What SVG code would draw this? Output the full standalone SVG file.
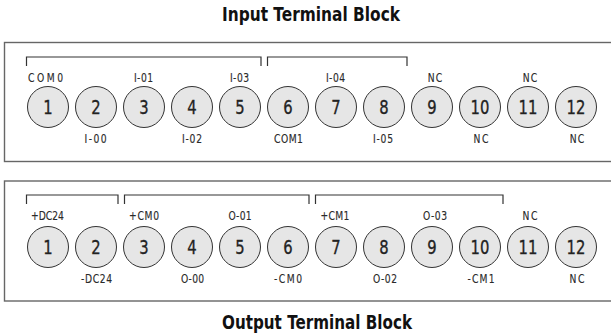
<svg xmlns="http://www.w3.org/2000/svg" width="611" height="336" viewBox="0 0 611 336">
<style>
.title{font-family:"DejaVu Sans","Liberation Sans",sans-serif;font-weight:bold;font-size:19.5px;fill:#111}
.box{fill:#fff;stroke:#666;stroke-width:1.4}
.br{fill:none;stroke:#333;stroke-width:1.2}
.term circle{fill:#e6e6e6;stroke:#333;stroke-width:1}
.num{font-family:"DejaVu Sans","Liberation Sans",sans-serif;font-size:20px;fill:#222;stroke:#222;stroke-width:0.35;text-anchor:middle}
.lbl{font-family:"DejaVu Sans","Liberation Sans",sans-serif;font-size:11.5px;fill:#2a2a2a;stroke:#2a2a2a;stroke-width:0.15;text-anchor:middle}
</style>
<rect width="611" height="336" fill="#fff"/>
<text class="title" x="222" y="21" textLength="178" lengthAdjust="spacingAndGlyphs">Input Terminal Block</text>
<text class="title" x="222" y="329" textLength="190" lengthAdjust="spacingAndGlyphs">Output Terminal Block</text>
<rect class="box" x="4.5" y="42.5" width="640" height="119"/>
<rect class="box" x="4.5" y="181" width="640" height="120"/>
<g id="connectors">
<path class="br" d="M26.5 66V57H261V66"/>
<path class="br" d="M267.5 66V57H407V66"/>
<path class="br" d="M26.5 204V195H118V204"/>
<path class="br" d="M124.5 204V195H309V204"/>
<path class="br" d="M315.5 204V195H503V204"/>
</g>
<g id="input">
<g id="in1" class="term"><circle cx="48" cy="107" r="20.5"/><text class="num" transform="translate(48 114.3) scale(0.74 1)">1</text><text class="lbl" transform="translate(45.5 81.5) scale(0.8 1)" textLength="43.75" lengthAdjust="spacing">COM0</text></g>
<g id="in2" class="term"><circle cx="96" cy="107" r="20.5"/><text class="num" transform="translate(96 114.3) scale(0.74 1)">2</text><text class="lbl" transform="translate(95.5 142.5) scale(0.8 1)" textLength="27.5" lengthAdjust="spacing">I-00</text></g>
<g id="in3" class="term"><circle cx="144" cy="107" r="20.5"/><text class="num" transform="translate(144 114.3) scale(0.74 1)">3</text><text class="lbl" transform="translate(143.5 81.5) scale(0.8 1)" textLength="24" lengthAdjust="spacing">I-01</text></g>
<g id="in4" class="term"><circle cx="192" cy="107" r="20.5"/><text class="num" transform="translate(192 114.3) scale(0.74 1)">4</text><text class="lbl" transform="translate(192 142.5) scale(0.8 1)" textLength="25" lengthAdjust="spacing">I-02</text></g>
<g id="in5" class="term"><circle cx="240" cy="107" r="20.5"/><text class="num" transform="translate(240 114.3) scale(0.74 1)">5</text><text class="lbl" transform="translate(239.5 81.5) scale(0.8 1)" textLength="24" lengthAdjust="spacing">I-03</text></g>
<g id="in6" class="term"><circle cx="288" cy="107" r="20.5"/><text class="num" transform="translate(288 114.3) scale(0.74 1)">6</text><text class="lbl" transform="translate(288.5 142.5) scale(0.8 1)" textLength="36" lengthAdjust="spacing">COM1</text></g>
<g id="in7" class="term"><circle cx="336" cy="107" r="20.5"/><text class="num" transform="translate(336 114.3) scale(0.74 1)">7</text><text class="lbl" transform="translate(335.5 81.5) scale(0.8 1)" textLength="24" lengthAdjust="spacing">I-04</text></g>
<g id="in8" class="term"><circle cx="384" cy="107" r="20.5"/><text class="num" transform="translate(384 114.3) scale(0.74 1)">8</text><text class="lbl" transform="translate(383 142.5) scale(0.8 1)" textLength="25" lengthAdjust="spacing">I-05</text></g>
<g id="in9" class="term"><circle cx="432" cy="107" r="20.5"/><text class="num" transform="translate(432 114.3) scale(0.74 1)">9</text><text class="lbl" transform="translate(435 81.5) scale(0.8 1)" textLength="18" lengthAdjust="spacing">NC</text></g>
<g id="in10" class="term"><circle cx="480" cy="107" r="20.5"/><text class="num" transform="translate(480 114.3) scale(0.74 1)">10</text><text class="lbl" transform="translate(481 142.5) scale(0.8 1)" textLength="18.5" lengthAdjust="spacing">NC</text></g>
<g id="in11" class="term"><circle cx="528" cy="107" r="20.5"/><text class="num" transform="translate(528 114.3) scale(0.74 1)">11</text><text class="lbl" transform="translate(530 81.5) scale(0.8 1)" textLength="18" lengthAdjust="spacing">NC</text></g>
<g id="in12" class="term"><circle cx="576" cy="107" r="20.5"/><text class="num" transform="translate(576 114.3) scale(0.74 1)">12</text><text class="lbl" transform="translate(577 142.5) scale(0.8 1)" textLength="18" lengthAdjust="spacing">NC</text></g>
</g>
<g id="output">
<g id="out1" class="term"><circle cx="48" cy="247" r="20.5"/><text class="num" transform="translate(48 254.3) scale(0.74 1)">1</text><text class="lbl" transform="translate(47.5 219.5) scale(0.8 1)" textLength="41" lengthAdjust="spacing">+DC24</text></g>
<g id="out2" class="term"><circle cx="96" cy="247" r="20.5"/><text class="num" transform="translate(96 254.3) scale(0.74 1)">2</text><text class="lbl" transform="translate(96.5 282.5) scale(0.8 1)" textLength="39" lengthAdjust="spacing">-DC24</text></g>
<g id="out3" class="term"><circle cx="144" cy="247" r="20.5"/><text class="num" transform="translate(144 254.3) scale(0.74 1)">3</text><text class="lbl" transform="translate(144 219.5) scale(0.8 1)" textLength="37.5" lengthAdjust="spacing">+CM0</text></g>
<g id="out4" class="term"><circle cx="192" cy="247" r="20.5"/><text class="num" transform="translate(192 254.3) scale(0.74 1)">4</text><text class="lbl" transform="translate(192.5 282.5) scale(0.8 1)" textLength="29" lengthAdjust="spacing">O-00</text></g>
<g id="out5" class="term"><circle cx="240" cy="247" r="20.5"/><text class="num" transform="translate(240 254.3) scale(0.74 1)">5</text><text class="lbl" transform="translate(240 219.5) scale(0.8 1)" textLength="29" lengthAdjust="spacing">O-01</text></g>
<g id="out6" class="term"><circle cx="288" cy="247" r="20.5"/><text class="num" transform="translate(288 254.3) scale(0.74 1)">6</text><text class="lbl" transform="translate(288 282.5) scale(0.8 1)" textLength="35" lengthAdjust="spacing">-CM0</text></g>
<g id="out7" class="term"><circle cx="336" cy="247" r="20.5"/><text class="num" transform="translate(336 254.3) scale(0.74 1)">7</text><text class="lbl" transform="translate(335 219.5) scale(0.8 1)" textLength="36" lengthAdjust="spacing">+CM1</text></g>
<g id="out8" class="term"><circle cx="384" cy="247" r="20.5"/><text class="num" transform="translate(384 254.3) scale(0.74 1)">8</text><text class="lbl" transform="translate(385 282.5) scale(0.8 1)" textLength="30" lengthAdjust="spacing">O-02</text></g>
<g id="out9" class="term"><circle cx="432" cy="247" r="20.5"/><text class="num" transform="translate(432 254.3) scale(0.74 1)">9</text><text class="lbl" transform="translate(435 219.5) scale(0.8 1)" textLength="30" lengthAdjust="spacing">O-03</text></g>
<g id="out10" class="term"><circle cx="480" cy="247" r="20.5"/><text class="num" transform="translate(480 254.3) scale(0.74 1)">10</text><text class="lbl" transform="translate(481 282.5) scale(0.8 1)" textLength="34" lengthAdjust="spacing">-CM1</text></g>
<g id="out11" class="term"><circle cx="528" cy="247" r="20.5"/><text class="num" transform="translate(528 254.3) scale(0.74 1)">11</text><text class="lbl" transform="translate(530 219.5) scale(0.8 1)" textLength="18.5" lengthAdjust="spacing">NC</text></g>
<g id="out12" class="term"><circle cx="576" cy="247" r="20.5"/><text class="num" transform="translate(576 254.3) scale(0.74 1)">12</text><text class="lbl" transform="translate(577 282.5) scale(0.8 1)" textLength="18.5" lengthAdjust="spacing">NC</text></g>
</g>
</svg>
